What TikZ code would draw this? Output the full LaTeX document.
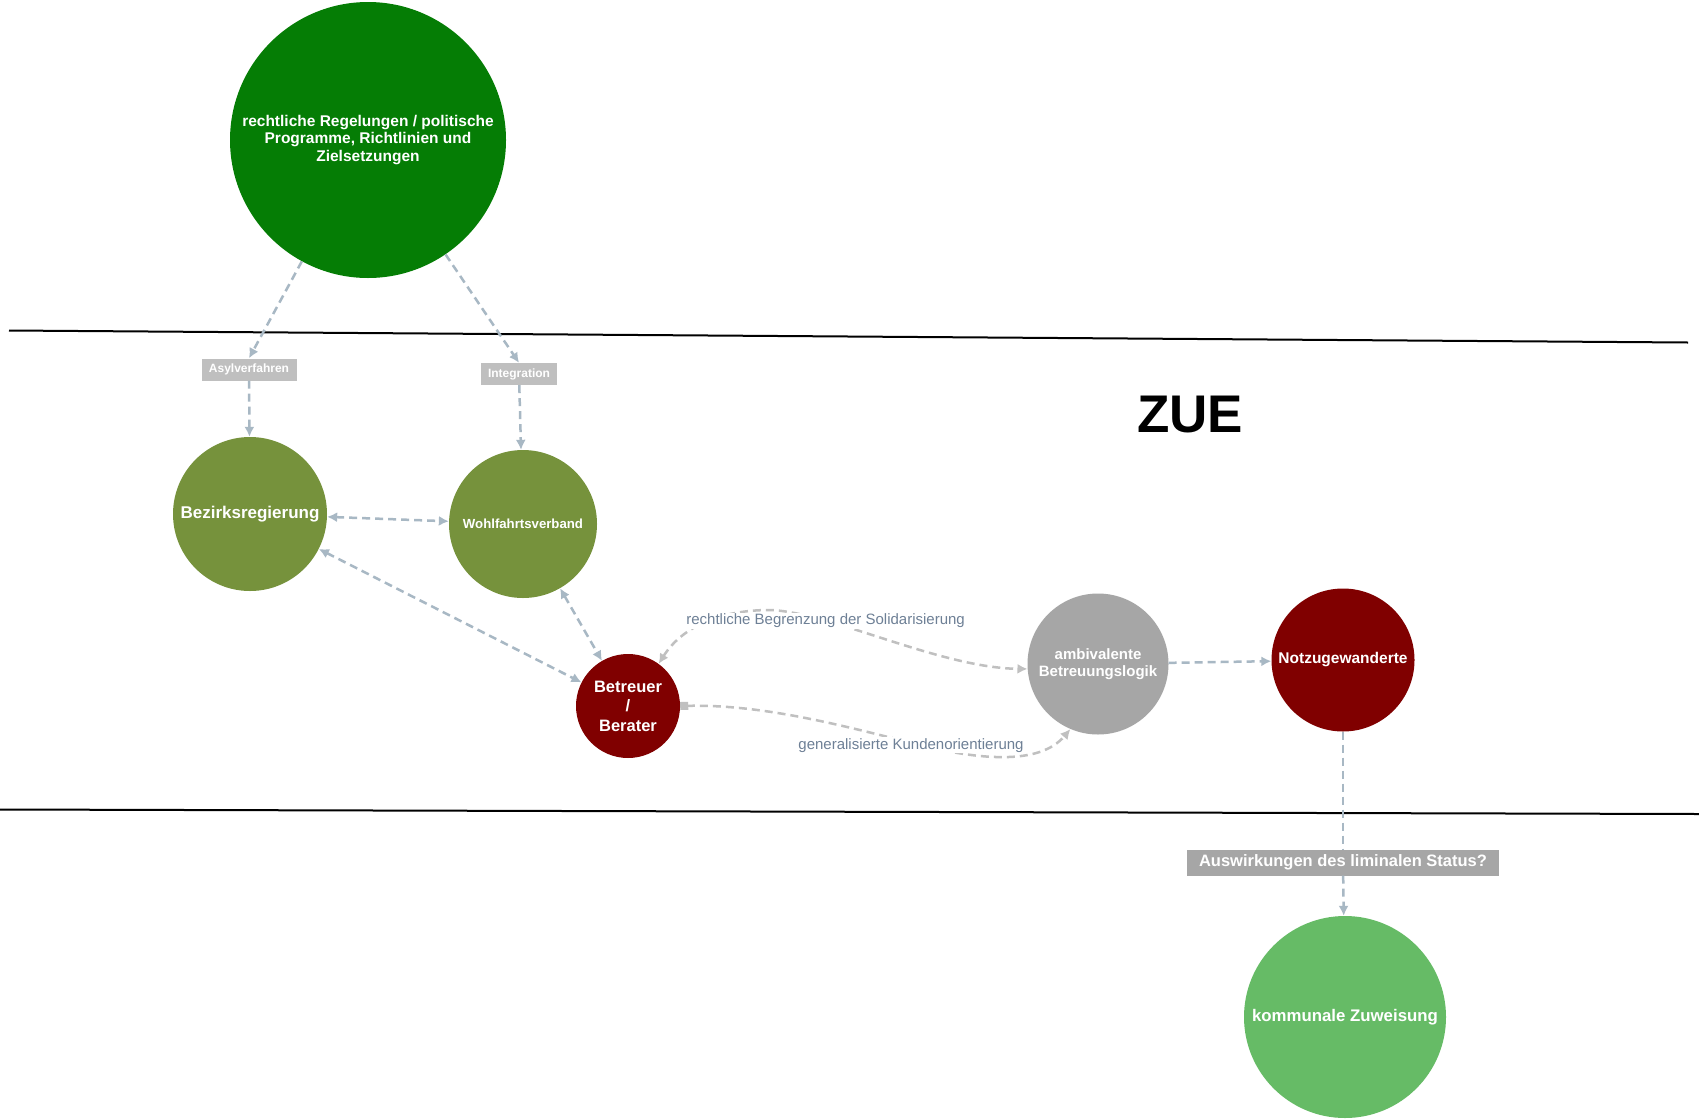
\documentclass[tikz,border=0pt]{standalone}
\usepackage{fontspec}
\setmainfont{Liberation Sans}
\usetikzlibrary{arrows.meta}
\definecolor{regg}{RGB}{5,125,5}
\definecolor{olive}{RGB}{118,146,60}
\definecolor{dred}{RGB}{128,0,0}
\definecolor{ambg}{RGB}{166,166,166}
\definecolor{kommg}{RGB}{102,187,102}
\definecolor{edgeb}{RGB}{168,184,196}
\definecolor{edgeg}{RGB}{192,192,192}
\definecolor{labtxt}{RGB}{110,128,150}
\definecolor{boxl}{RGB}{191,191,191}
\begin{document}
\begin{tikzpicture}[x=1pt,y=-1pt,
  circ/.style={circle,inner sep=0pt,text=white,align=center,font=\bfseries},
  tagbox/.style={rectangle,inner sep=0pt,text=white,font=\bfseries},
  conn/.style={draw=edgeb,line width=2.5pt,dash pattern=on 8pt off 5pt},
  curv/.style={draw=edgeg,line width=2.5pt,dash pattern=on 8pt off 5pt},
  tip/.style={-{Latex[length=10pt,width=10pt]}},
  tips/.style={{Latex[length=10pt,width=10pt]}-{Latex[length=10pt,width=10pt]}},
  elab/.style={fill=white,inner sep=1pt,text=labtxt,font=\fontsize{15}{17}\selectfont}
]
\useasboundingbox (0,0) rectangle (1699,1119);
\fill[white] (0,0) rectangle (1699,1119);

% separating lines
\coordinate (l1a) at (9,330.5);
\coordinate (l1b) at (1688,342.5);
\coordinate (l2a) at (0,809.5);
\coordinate (l2b) at (1699,814);
\draw[line width=2pt] (l1a) -- (l1b);
\draw[line width=2pt] (l2a) -- (l2b);

% nodes
\node[circ,fill=regg,minimum size=276pt,font=\bfseries\fontsize{15.5}{17.5}\selectfont] (reg) at (368,140)
  {rechtliche Regelungen / politische\\Programme, Richtlinien und\\Zielsetzungen};
\node[tagbox,fill=boxl,minimum width=95pt,minimum height=22pt,font=\bfseries\fontsize{12}{13}\selectfont] (asyl) at (249,369.5) {Asylverfahren};
\node[tagbox,fill=boxl,minimum width=76pt,minimum height=22pt,font=\bfseries\fontsize{12}{13}\selectfont] (integ) at (519,374) {Integration};
\node[circ,fill=olive,minimum size=154pt,font=\bfseries\fontsize{17}{20}\selectfont] (bez) at (250,514) {Bezirksregierung};
\node[circ,fill=olive,minimum size=148pt,font=\bfseries\fontsize{13.2}{15}\selectfont] (wohl) at (523,524) {Wohlfahrtsverband};
\node[circ,fill=dred,minimum size=104pt,font=\bfseries\fontsize{16.5}{19.5}\selectfont] (bet) at (628,706) {Betreuer\\/\\Berater};
\node[circ,fill=ambg,minimum size=141pt,font=\bfseries\fontsize{15}{17.5}\selectfont] (amb) at (1098,664) {ambivalente\\Betreuungslogik};
\node[circ,fill=dred,minimum size=143pt,font=\bfseries\fontsize{15.5}{18}\selectfont] (notz) at (1343,660) {Notzugewanderte};
\node[tagbox,fill=ambg,minimum width=312pt,minimum height=26pt,font=\bfseries\fontsize{16.5}{19}\selectfont] (ausw) at (1343,862.5) {Auswirkungen des liminalen Status?};
\node[circ,fill=kommg,minimum size=202pt,font=\bfseries\fontsize{16.8}{19}\selectfont] (komm) at (1345,1017) {kommunale Zuweisung};
\node[font=\bfseries\fontsize{53}{60}\selectfont] (zue) at (1190,415) {ZUE};

% straight connectors
\draw[conn,tip] (reg) -- (asyl.north);
\draw[conn,tip] (reg) -- (integ.north);
\draw[conn,tip] (asyl) -- (bez);
\draw[conn,tip] (integ) -- (wohl);
\draw[conn,tips] (bez) -- (wohl);
\draw[conn,tips] (bez) -- (bet);
\draw[conn,tips] (wohl) -- (bet);
\draw[conn,tip] (amb) -- (notz);
\draw[conn] (notz) -- (ausw);
\draw[conn,tip] (ausw) -- (komm);

% curved connectors
\coordinate (t1) at (770,610);
\draw[curv,tips] (bet.54) .. controls (680,630) and (715,610) .. (t1)
  .. controls (830,612) and (940,668) .. (amb.184);
\node[elab] (lab1) at (825.6,620.8) {rechtliche Begrenzung der Solidarisierung};

\coordinate (b1) at (900,740);
\draw[curv,{Square[length=8pt,width=8pt]}-{Latex[length=10pt,width=10pt]}] (bet.east) .. controls (760,704) and (840,725) .. (b1)
  .. controls (980,762) and (1040,765) .. (amb.247);
\node[elab] (lab2) at (911,745.4) {generalisierte Kundenorientierung};
\end{tikzpicture}
\end{document}
